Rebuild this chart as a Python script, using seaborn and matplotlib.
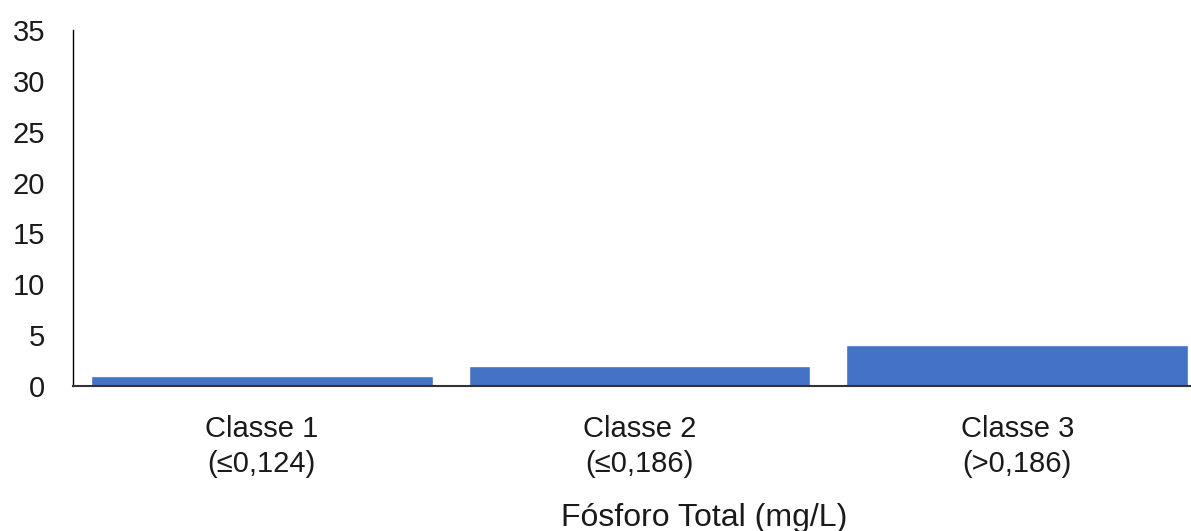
import seaborn as sns
import matplotlib.pyplot as plt
import pandas as pd

# Values
categories = ['Classe 1\n(≤0,124)', 'Classe 2\n(≤0,186)', 'Classe 3\n(>0,186)']
values = [1, 2, 4]
y_ticks = [0, 5, 10, 15, 20, 25, 30, 35]
x_label = 'Fósforo Total (mg/L)'

sns.set_style("white")
plt.rcParams['font.family'] = ['Liberation Sans', 'DejaVu Sans']

fig = plt.figure(figsize=(11.91, 5.31), dpi=100)
ax = fig.add_axes([73 / 1191, 145 / 531, (1191 - 73) / 1191, (501 - 145) / 531])

df = pd.DataFrame({'classe': categories, 'valor': values})
sns.barplot(data=df, x='classe', y='valor', color='#4472C4', width=0.905,
            saturation=1, ax=ax)

ax.set_xlim(-0.5, 2.46)
ax.set_ylim(0, 35)
ax.set_yticks(y_ticks)
ax.set_ylabel('')
ax.set_xlabel(x_label, fontsize=23, color='#1a1a1a')
ax.xaxis.set_label_coords(0.565, -0.328)

for side in ['top', 'right']:
    ax.spines[side].set_visible(False)
ax.spines['left'].set_color('black')
ax.spines['left'].set_linewidth(1.0)
ax.spines['bottom'].set_color('#333333')
ax.spines['bottom'].set_linewidth(1.5)

ax.tick_params(axis='y', length=0, pad=20, labelsize=21, labelcolor='#1a1a1a')
ax.tick_params(axis='x', length=0, pad=21, labelsize=21, labelcolor='#1a1a1a')
for lbl in ax.get_xticklabels():
    lbl.set_linespacing(1.3)

fig.savefig('out.png', dpi=100)
